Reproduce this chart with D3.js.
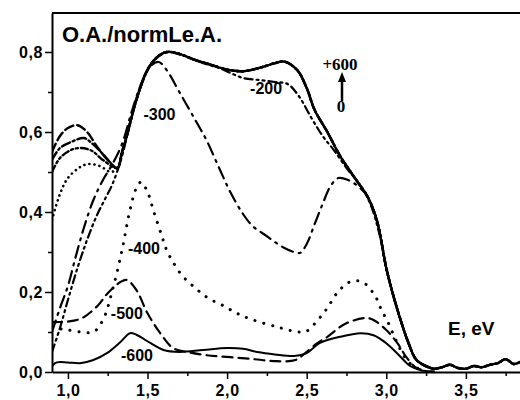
<!DOCTYPE html>
<html>
<head>
<meta charset="utf-8">
<script src="https://cdn.jsdelivr.net/npm/d3@7"></script>
<style>
  body { margin: 0; background: #fff; }
  svg { display: block; }
  .tick text { font-family: "Liberation Sans", Arial, sans-serif; font-weight: bold; font-size: 16px; fill: #000; letter-spacing: 0.6px; }
</style>
</head>
<body>
<div id="chart"></div>
<script>
// x ticks (E, eV) and y ticks
var xMajor = [1.0, 1.5, 2.0, 2.5, 3.0, 3.5],
    xMinor = [1.25, 1.75, 2.25, 2.75, 3.25, 3.75],
    yMajor = [0, 0.2, 0.4, 0.6, 0.8],
    yMinor = [0.1, 0.3, 0.5, 0.7];

// upper family (0 ... +600) share the same shape above 1.3 eV
var upperTail = [[1.31,0.51],[1.34,0.55],[1.37,0.59],[1.43,0.68],[1.5,0.755],[1.56,0.787],[1.62,0.80],[1.7,0.795],
  [1.8,0.78],[1.9,0.768],[2.0,0.756],[2.1,0.752],[2.2,0.76],[2.3,0.772],[2.36,0.776],[2.44,0.755],[2.5,0.71],
  [2.55,0.655],[2.63,0.60],[2.71,0.54],[2.82,0.475],[2.88,0.44],[2.94,0.38],[3.0,0.26],[3.04,0.197],[3.09,0.13],
  [3.14,0.072],[3.19,0.03],[3.26,0.013],[3.3,0.008],[3.35,0.012],[3.4,0.018],[3.45,0.01],[3.5,0.008],[3.55,0.015],
  [3.6,0.012],[3.65,0.018],[3.7,0.022],[3.75,0.032],[3.8,0.02],[3.84,0.025]];

var headPlus600 = [[0.9,0.55],[0.95,0.59],[1.0,0.61],[1.06,0.617],[1.12,0.60],[1.18,0.565],[1.25,0.53]],
    headPlus400 = [[0.9,0.53],[0.95,0.56],[1.02,0.575],[1.1,0.585],[1.15,0.572],[1.22,0.545]],
    headPlus200 = [[0.9,0.50],[0.95,0.535],[1.02,0.555],[1.08,0.56],[1.15,0.553],[1.22,0.53]],
    headZero    = [[0.9,0.38],[0.95,0.445],[1.0,0.485],[1.08,0.513],[1.13,0.52],[1.2,0.515],[1.27,0.50]];

var minus200 = [[0.9,0.05],[0.95,0.11],[1.0,0.18],[1.06,0.26],[1.12,0.33],[1.18,0.39],[1.23,0.43],[1.28,0.47],
  [1.34,0.54],[1.4,0.64],[1.46,0.72],[1.52,0.77],[1.58,0.792],[1.65,0.80],[1.75,0.788],[1.85,0.772],[1.95,0.76],
  [2.02,0.748],[2.1,0.735],[2.2,0.73],[2.3,0.725],[2.38,0.72],[2.45,0.69],[2.53,0.635],[2.6,0.59],[2.67,0.555],
  [2.75,0.51],[2.84,0.465],[2.9,0.42],[2.96,0.34],[3.0,0.26],[3.04,0.197],[3.09,0.13],[3.14,0.072],[3.19,0.03],[3.26,0.012]];

var minus300 = [[0.9,0.10],[0.95,0.16],[1.0,0.215],[1.05,0.29],[1.1,0.36],[1.16,0.43],[1.22,0.48],[1.28,0.52],
  [1.34,0.57],[1.4,0.65],[1.46,0.72],[1.52,0.765],[1.57,0.775],[1.62,0.755],[1.7,0.70],[1.8,0.63],[1.87,0.58],
  [1.95,0.51],[2.02,0.45],[2.1,0.395],[2.16,0.365],[2.23,0.345],[2.3,0.325],[2.36,0.31],[2.42,0.30],[2.46,0.298],
  [2.5,0.32],[2.55,0.37],[2.6,0.42],[2.65,0.465],[2.7,0.485],[2.76,0.48],[2.82,0.465],[2.88,0.44],[2.94,0.38],
  [3.0,0.26],[3.04,0.197],[3.09,0.13],[3.14,0.072],[3.19,0.03],[3.26,0.012]];

var minus400 = [[0.9,0.11],[0.95,0.108],[1.0,0.105],[1.08,0.10],[1.16,0.10],[1.22,0.13],[1.28,0.205],[1.34,0.305],
  [1.39,0.405],[1.43,0.46],[1.46,0.475],[1.5,0.45],[1.54,0.40],[1.59,0.34],[1.62,0.305],[1.66,0.275],[1.72,0.24],
  [1.8,0.21],[1.88,0.185],[1.98,0.165],[2.06,0.147],[2.15,0.132],[2.32,0.112],[2.45,0.10],[2.5,0.102],[2.57,0.13],
  [2.63,0.16],[2.69,0.197],[2.77,0.225],[2.85,0.225],[2.93,0.19],[2.97,0.155],[3.01,0.125],[3.06,0.08],[3.12,0.035],
  [3.18,0.012],[3.25,0.005]];

var minus500 = [[0.9,0.125],[0.95,0.125],[1.0,0.126],[1.09,0.135],[1.19,0.167],[1.25,0.197],[1.33,0.225],[1.37,0.23],
  [1.43,0.205],[1.5,0.147],[1.58,0.097],[1.66,0.06],[1.75,0.05],[1.87,0.042],[2.02,0.037],[2.17,0.032],[2.31,0.027],
  [2.43,0.03],[2.49,0.047],[2.56,0.07],[2.63,0.088],[2.74,0.12],[2.87,0.135],[2.92,0.13],[3.0,0.105],[3.07,0.072],
  [3.13,0.035],[3.19,0.01],[3.25,0.004]];

var minus600 = [[0.9,0.015],[0.93,0.024],[1.0,0.024],[1.075,0.022],[1.16,0.03],[1.245,0.047],[1.33,0.075],[1.39,0.097],
  [1.43,0.093],[1.52,0.072],[1.6,0.055],[1.7,0.05],[1.85,0.055],[2.0,0.06],[2.1,0.058],[2.19,0.05],[2.3,0.044],
  [2.42,0.04],[2.5,0.047],[2.58,0.072],[2.71,0.088],[2.84,0.097],[2.92,0.092],[3.0,0.072],[3.08,0.042],[3.15,0.015],
  [3.22,0.004],[3.3,0.002]];

var curves = [
  {name: "+600", pts: headPlus600.concat(upperTail), dash: "9,4", w: 2.4},
  {name: "+400", pts: headPlus400.concat(upperTail), dash: "9,3,2,3", w: 2.4},
  {name: "+200", pts: headPlus200.concat(upperTail), dash: "7,3,2,3,2,3", w: 2.4},
  {name: "0",    pts: headZero.concat(upperTail),    dash: "0.1,5", w: 2.6},
  {name: "-200", pts: minus200, dash: "8,4,2,4,2,4", w: 2.2},
  {name: "-300", pts: minus300, dash: "12,6,2,6", w: 2.2},
  {name: "-400", pts: minus400, dash: "0.1,9", w: 3},
  {name: "-500", pts: minus500, dash: "10,6", w: 2.2},
  {name: "-600", pts: minus600, dash: null, w: 2}
];

var labels = [
  {t: "-200", e: 2.245, v: 0.695},
  {t: "-300", e: 1.575, v: 0.63},
  {t: "-400", e: 1.478, v: 0.295},
  {t: "-500", e: 1.37, v: 0.1325},
  {t: "-600", e: 1.434, v: 0.0275}
];

var width = 520, height = 400;

var x = d3.scaleLinear().domain([0.9, 3.84]).range([52, 520]),
    y = d3.scaleLinear().domain([0, 0.8975]).range([372, 13]);

var svg = d3.select("#chart").append("svg")
    .attr("width", width)
    .attr("height", height);

svg.append("clipPath").attr("id", "clip")
  .append("rect")
    .attr("x", 52).attr("y", 13)
    .attr("width", 468).attr("height", 359);

var comma = function(d) { return d3.format(".1f")(d).replace(".", ","); };

// minor ticks first, then major axes
svg.append("g")
    .attr("transform", "translate(0,372)")
    .call(d3.axisBottom(x).tickValues(xMinor).tickSize(4).tickFormat(""))
    .call(function(g) { g.select(".domain").remove(); });
svg.append("g")
    .attr("transform", "translate(52,0)")
    .call(d3.axisLeft(y).tickValues(yMinor).tickSize(4).tickFormat(""))
    .call(function(g) { g.select(".domain").remove(); });

var xAxis = svg.append("g")
    .attr("transform", "translate(0,372)")
    .call(d3.axisBottom(x).tickValues(xMajor).tickSize(7).tickSizeOuter(0).tickFormat(comma));
xAxis.selectAll(".tick text").attr("y", 13).attr("dy", "0.71em");

var yAxis = svg.append("g")
    .attr("transform", "translate(52,0)")
    .call(d3.axisLeft(y).tickValues(yMajor).tickSize(7).tickSizeOuter(0).tickFormat(comma));
yAxis.selectAll(".tick text").attr("x", -9);

svg.selectAll(".tick line").attr("stroke", "#000").attr("stroke-width", 1.5);
svg.selectAll(".domain").attr("stroke-width", 2);

// top frame line
svg.append("line")
    .attr("x1", 52).attr("x2", 520)
    .attr("y1", 13).attr("y2", 13)
    .attr("stroke", "#000")
    .attr("stroke-width", 2);

var line = d3.line()
    .x(function(d) { return x(d[0]); })
    .y(function(d) { return y(d[1]); })
    .curve(d3.curveCatmullRom.alpha(0.5));

svg.append("g")
    .attr("clip-path", "url(#clip)")
  .selectAll("path")
    .data(curves)
  .enter().append("path")
    .attr("d", function(d) { return line(d.pts); })
    .attr("fill", "none")
    .attr("stroke", "#000")
    .attr("stroke-width", function(d) { return d.w; })
    .attr("stroke-linecap", "round")
    .attr("stroke-dasharray", function(d) { return d.dash; });

svg.selectAll(".curvelabel")
    .data(labels)
  .enter().append("text")
    .attr("class", "curvelabel")
    .attr("x", function(d) { return x(d.e); })
    .attr("y", function(d) { return y(d.v); })
    .attr("text-anchor", "middle")
    .style("font-family", "Liberation Sans, Arial, sans-serif")
    .style("font-weight", "bold")
    .style("font-size", "16px")
    .text(function(d) { return d.t; });

svg.append("text")
    .attr("x", 62)
    .attr("y", 42)
    .text("O.A./normLe.A.")
    .style("font-family", "Liberation Sans, Arial, sans-serif")
    .style("font-weight", "bold")
    .style("font-size", "22px");

svg.append("text")
    .attr("x", 448)
    .attr("y", 335)
    .text("E, eV")
    .style("font-family", "Liberation Sans, Arial, sans-serif")
    .style("font-weight", "bold")
    .style("font-size", "19px");

// +600 / 0 arrow annotation
svg.append("text")
    .attr("x", 340).attr("y", 70)
    .attr("text-anchor", "middle")
    .text("+600")
    .style("font-family", "Liberation Serif, Times New Roman, serif")
    .style("font-weight", "bold")
    .style("font-size", "17px");
svg.append("line")
    .attr("x1", 342).attr("x2", 342)
    .attr("y1", 101).attr("y2", 80)
    .attr("stroke", "#000")
    .attr("stroke-width", 2.5);
svg.append("path")
    .attr("d", "M342,72 L338,82 L346,82 Z")
    .attr("fill", "#000");
svg.append("text")
    .attr("x", 341).attr("y", 112)
    .attr("text-anchor", "middle")
    .text("0")
    .style("font-family", "Liberation Serif, Times New Roman, serif")
    .style("font-weight", "bold")
    .style("font-size", "17px");
</script>
</body>
</html>
